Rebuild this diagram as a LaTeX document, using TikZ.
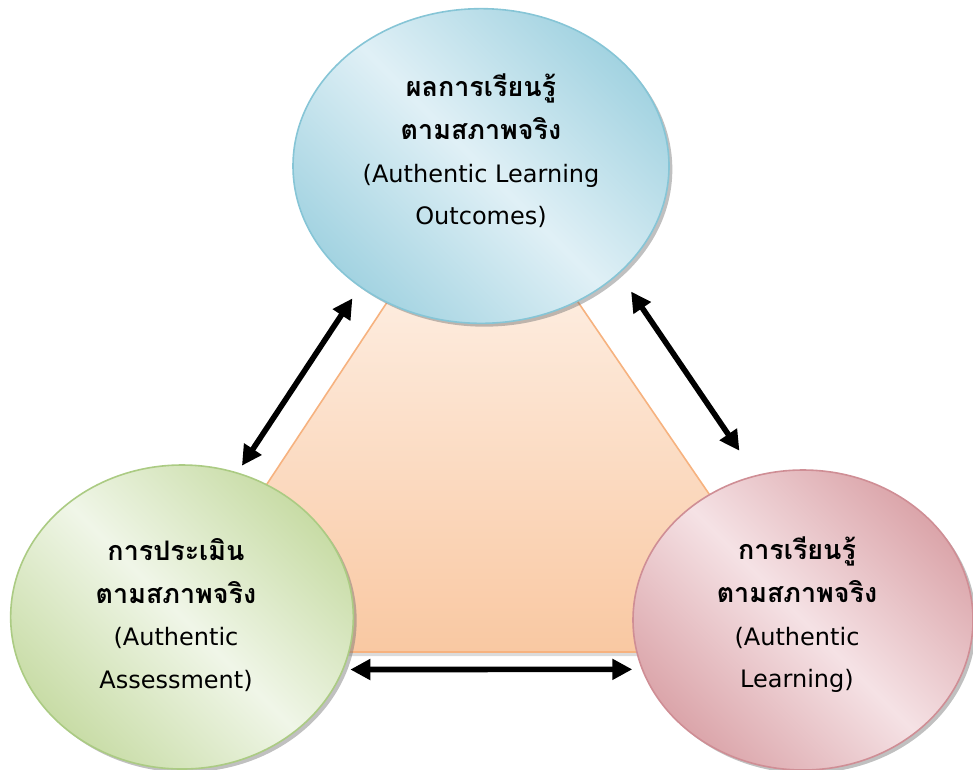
\documentclass[tikz,border=0pt]{standalone}
\usepackage{fontspec}
\setmainfont{DejaVu Sans}
\newfontfamily\thaifont[Script=Thai,Scale=1.12]{Loma}
\newcommand\thline[1]{{\thaifont\bfseries #1}}
\usetikzlibrary{shapes.geometric,arrows.meta,shadows}
\definecolor{blueLite}{HTML}{E0F0F6}
\definecolor{blueDark}{HTML}{A3D3E1}
\definecolor{blueLine}{HTML}{86C5D6}
\definecolor{greenLite}{HTML}{F0F6E8}
\definecolor{greenDark}{HTML}{C8DCA6}
\definecolor{greenLine}{HTML}{ABCB83}
\definecolor{redLite}{HTML}{F5E2E5}
\definecolor{redDark}{HTML}{DBA5AA}
\definecolor{redLine}{HTML}{CF8E95}
\definecolor{triTop}{HTML}{FFFAF6}
\definecolor{triBot}{HTML}{F9C8A2}
\definecolor{triLine}{HTML}{F6B27F}
\begin{document}
\begin{tikzpicture}[x=0.75pt, y=-0.75pt,
    bubble/.style = {shape=ellipse, inner sep=0pt, line width=1.2pt,
                     drop shadow={shadow xshift=2.5pt, shadow yshift=-2.5pt, fill=black!55, opacity=.45}},
    blueball/.style = {draw=blueLine, left color=blueDark, right color=blueDark, middle color=blueLite, shading angle=-45},
    greenball/.style = {draw=greenLine, left color=greenDark, right color=greenDark, middle color=greenLite, shading angle=-45},
    redball/.style = {draw=redLine, left color=redDark, right color=redDark, middle color=redLite, shading angle=-45},
    label/.style = {align=center, inner sep=0pt, font=\fontsize{18pt}{32pt}\selectfont},
    backtri/.style = {draw=triLine, line width=1.2pt, top color=triTop, bottom color=triBot,
                      drop shadow={shadow xshift=0pt, shadow yshift=-3pt, fill=black!40, opacity=.35}},
    link/.style = {{Triangle[length=15pt,width=15pt]}-{Triangle[length=15pt,width=15pt]}, line width=4.2pt}]
    \useasboundingbox (0,0) rectangle (973,769);
    \clip (0,0) rectangle (973,769);
    \draw[backtri] (481,160) -- (156,652) -- (817,652) -- cycle;
    \node[bubble, blueball, minimum width=282pt, minimum height=236pt] (outcome) at (481,166) {};
    \node[bubble, greenball, minimum width=257pt, minimum height=228pt] (assess) at (182,617) {};
    \node[bubble, redball, minimum width=255pt, minimum height=225pt] (learn) at (803,620) {};
    \node[label] (outcomeTxt) at (481,151)
        {\thline{ผลการเรียนรู้}\\ \thline{ตามสภาพจริง}\\ (Authentic Learning\\ Outcomes)};
    \node[label] (assessTxt) at (176,615)
        {\thline{การประเมิน}\\ \thline{ตามสภาพจริง}\\ (Authentic\\ Assessment)};
    \node[label] (learnTxt) at (797,615)
        {\thline{การเรียนรู้}\\ \thline{ตามสภาพจริง}\\ (Authentic\\ Learning)};
    \draw[link, shorten <=6pt, shorten >=10pt] (assess.69) -- (outcome.225);
    \draw[link, shorten <=16pt, shorten >=22pt] (outcome.-38) -- (learn.108);
    \draw[link, shorten <=5pt, shorten >=7pt] (assess.-18) -- (learn.197);
\end{tikzpicture}
\end{document}
